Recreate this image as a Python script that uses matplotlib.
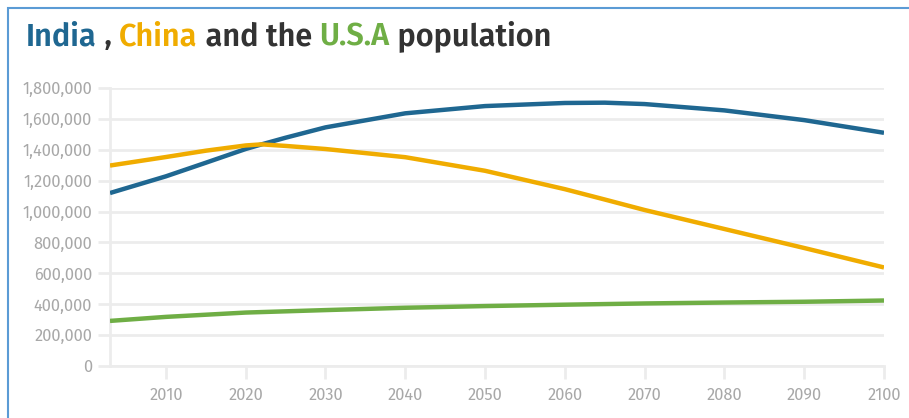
import matplotlib
matplotlib.use("Agg")
import matplotlib.pyplot as plt
from matplotlib.ticker import FuncFormatter
from matplotlib.patches import Rectangle
from matplotlib import font_manager
from matplotlib.font_manager import FontProperties

# ============================================================
# DATA
# ============================================================
YEARS = [2003, 2010, 2015, 2020, 2022, 2025, 2030, 2040, 2050, 2060,
         2065, 2070, 2080, 2090, 2100]
INDIA = [1120000, 1228000, 1316000, 1405000, 1435000, 1478000, 1545000,
         1636000, 1683000, 1703000, 1705000, 1696000, 1655000, 1592000,
         1510000]
CHINA = [1298000, 1353000, 1394000, 1428000, 1435000, 1425000, 1405000,
         1352000, 1264000, 1145000, 1078000, 1010000, 887000, 764000,
         638000]
USA_YEARS = [2003, 2010, 2020, 2030, 2040, 2050, 2060, 2070, 2080, 2090, 2100]
USA = [292000, 318000, 346000, 362000, 377000, 388000, 397000, 405000,
       411000, 416000, 424000]

X_TICKS = list(range(2010, 2101, 10))
Y_TICKS = list(range(0, 1800001, 200000))

C_INDIA = "#1f6791"
C_CHINA = "#f0ac00"
C_USA = "#6fae45"
C_TEXT = "#333333"
C_TICK = "#a8a8a8"
C_GRID = "#ececec"


# ============================================================
# FONTS — pick a real file of the wanted weight
# ============================================================
def _w(entry):
    w = entry.weight
    if isinstance(w, str):
        w = font_manager.weight_dict.get(w, 400)
    return int(w)


def pick_font(families, target, lo, hi):
    for fam in families:
        cands = [f for f in font_manager.fontManager.ttflist
                 if f.name == fam and f.style == "normal"
                 and lo <= _w(f) <= hi]
        if cands:
            best = min(cands, key=lambda f: abs(_w(f) - target))
            return FontProperties(fname=best.fname)
    return FontProperties(family="DejaVu Sans",
                          weight="bold" if target > 500 else "normal")


SANS = ["Fira Sans", "Lato"]
FP_TITLE = pick_font(SANS, 600, 560, 720)
FP_TICK = pick_font(SANS, 400, 380, 420)

# ============================================================
# FIGURE
# ============================================================
fig = plt.figure(figsize=(9.09, 4.18), dpi=100)
renderer = fig.canvas.get_renderer()
ax = fig.add_axes([110 / 909, 1 - 366 / 418, 774 / 909, 278 / 418])

ax.plot(YEARS, INDIA, color=C_INDIA, lw=3.2, solid_capstyle="butt", zorder=3)
ax.plot(YEARS, CHINA, color=C_CHINA, lw=3.2, solid_capstyle="butt", zorder=3)
ax.plot(USA_YEARS, USA, color=C_USA, lw=3.2, solid_capstyle="butt", zorder=3)

ax.set_xlim(2003, 2100)
ax.set_ylim(0, 1800000)
ax.set_xticks(X_TICKS)
ax.set_yticks(Y_TICKS)
ax.yaxis.set_major_formatter(FuncFormatter(lambda v, p: f"{int(v):,}"))
ax.grid(axis="y", color=C_GRID, lw=2)
ax.set_axisbelow(True)

for s in ["top", "right"]:
    ax.spines[s].set_visible(False)
for s in ["left", "bottom"]:
    ax.spines[s].set_color(C_GRID)
    ax.spines[s].set_linewidth(2)
ax.tick_params(axis="both", colors=C_GRID, width=2, length=9,
               labelcolor=C_TICK)
ax.tick_params(axis="y", pad=4)
ax.tick_params(axis="x", pad=6)

# tick label size: "1,800,000" is about 70 px wide in the reference
probe = fig.text(0, 0, "1,800,000", fontproperties=FP_TICK, fontsize=13)
tick_size = min(13.5, 13 * 70 / probe.get_window_extent(renderer=renderer).width)
probe.remove()
for lab in ax.get_xticklabels() + ax.get_yticklabels():
    lab.set_fontproperties(FP_TICK)
    lab.set_fontsize(tick_size)

# frame of the card (only top and left edges visible)
fig.patches.append(Rectangle((8 / 909, -0.1), 1.2, 1 - 8 / 418 + 0.1,
                             transform=fig.transFigure, fill=False,
                             edgecolor="#5b9bd5", lw=1.5))

# ============================================================
# MULTI-COLOUR TITLE  (sized so the whole line is ~525 px wide)
# ============================================================
pieces = [("India", C_INDIA), (" , ", C_TEXT), ("China", C_CHINA),
          (" and the ", C_TEXT), ("U.S.A", C_USA), (" population", C_TEXT)]
probe = fig.text(0, 0, "".join(p[0] for p in pieces),
                 fontproperties=FP_TITLE, fontsize=25)
size = 25 * 525 / probe.get_window_extent(renderer=renderer).width
probe.remove()

x = 26 / 909
for txt, col in pieces:
    t = fig.text(x, 1 - 45 / 418, txt, color=col, fontproperties=FP_TITLE,
                 fontsize=size, va="baseline", ha="left")
    x += t.get_window_extent(renderer=renderer).width / 909

fig.savefig("out.png", dpi=100)
